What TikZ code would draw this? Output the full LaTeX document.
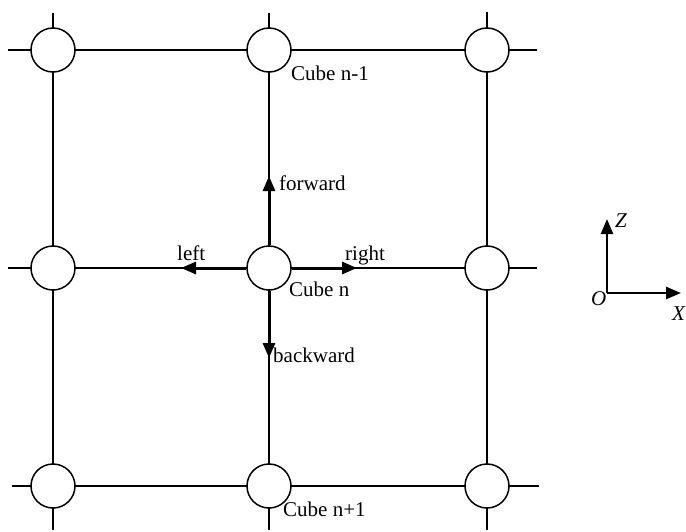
\documentclass[tikz,border=0pt]{standalone}
\usepackage{fontspec}
\setmainfont{Liberation Serif}
\usetikzlibrary{arrows.meta}
\begin{document}
\begin{tikzpicture}[x=1pt,y=-1pt,
  cube/.style={circle,draw,fill=white,line width=1.5pt,minimum size=44pt,inner sep=0pt},
  thin/.style={line width=1.5pt},
  thick arrow/.style={line width=3pt,-{Triangle[length=15pt,width=12pt]}},
  lbl/.style={inner sep=0pt,anchor=base west,font=\fontsize{21}{24}\selectfont}]
\useasboundingbox (0,0) rectangle (686,531);
% stub end points
\coordinate (t1) at (53,13); \coordinate (t2) at (269,13); \coordinate (t3) at (487,12);
\coordinate (b1) at (53,530); \coordinate (b2) at (269,530); \coordinate (b3) at (487,530);
\coordinate (l1) at (8,50); \coordinate (l2) at (8,268); \coordinate (l3) at (12,486);
\coordinate (r1) at (537,50); \coordinate (r2) at (537,268); \coordinate (r3) at (539,486);
% cube positions
\coordinate (p11) at (53,50); \coordinate (p12) at (269,50); \coordinate (p13) at (487,50);
\coordinate (p21) at (53,268); \coordinate (p22) at (269,268); \coordinate (p23) at (487,268);
\coordinate (p31) at (53,486); \coordinate (p32) at (269,486); \coordinate (p33) at (487,486);
% grid lines
\draw[thin] (l1) -- (r1); \draw[thin] (l2) -- (r2); \draw[thin] (l3) -- (r3);
\draw[thin] (t1) -- (b1); \draw[thin] (t2) -- (b2); \draw[thin] (t3) -- (b3);
% cubes
\foreach \i in {1,2,3}{\foreach \j in {1,2,3}{\node[cube] (c\i\j) at (p\i\j) {};}}
% direction arrows
\coordinate (fw) at (269,176); \coordinate (bw) at (269,358);
\coordinate (lf) at (181,268); \coordinate (rt) at (357,268);
\draw[thick arrow] (c22.north) -- (fw);
\draw[thick arrow] (c22.south) -- (bw);
\draw[thick arrow] (c22.west) -- (lf);
\draw[thick arrow] (c22.east) -- (rt);
% labels
\node[lbl] (nfw) at (279,190) {forward};
\node[lbl] (nbw) at (273,362) {backward};
\node[lbl] (nlf) at (177,260) {left};
\node[lbl] (nrt) at (345,260) {right};
\node[lbl] (ncn) at (289,296) {Cube n};
\node[lbl] (ncm) at (291,80) {Cube n-1};
\node[lbl] (ncp) at (283,516) {Cube n+1};
% axes
\coordinate (O) at (607,293);
\coordinate (Zt) at (607,219); \coordinate (Xt) at (681,293);
\draw[line width=2.5pt,-{Triangle[length=15pt,width=12pt]}] (O) -- (Zt);
\draw[line width=2.5pt,-{Triangle[length=15pt,width=12pt]}] (O) -- (Xt);
\node[lbl,font=\fontsize{21}{24}\selectfont\itshape] (nz) at (615,227) {Z};
\node[lbl,font=\fontsize{21}{24}\selectfont\itshape] (no) at (591,305) {O};
\node[lbl,font=\fontsize{21}{24}\selectfont\itshape] (nx) at (672,320) {X};
\end{tikzpicture}
\end{document}
